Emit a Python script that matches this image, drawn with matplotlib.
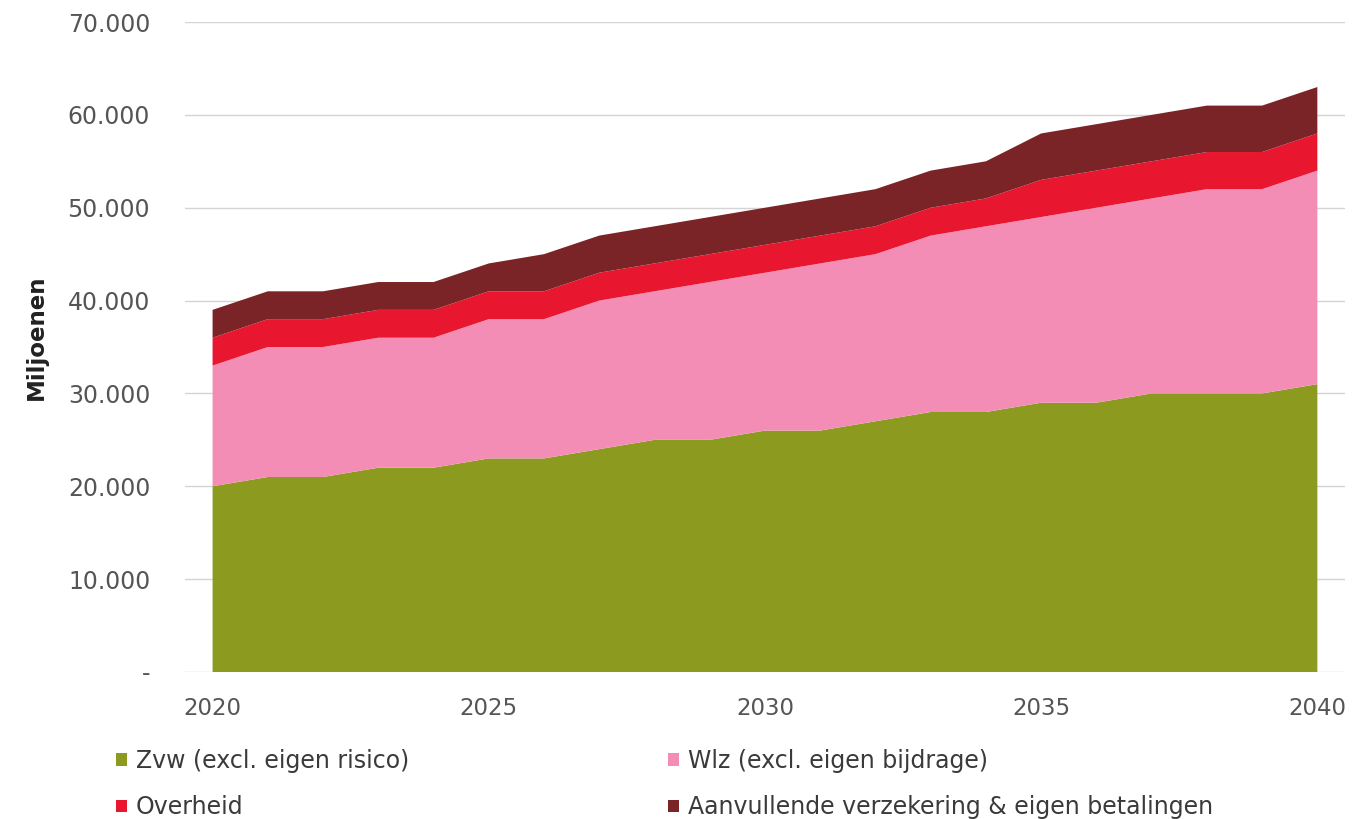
import matplotlib.pyplot as plt
import numpy as np
from matplotlib.patches import Patch
from matplotlib.ticker import FuncFormatter

years = list(range(2020, 2041))
zvw = [20000, 21000, 21000, 22000, 22000, 23000, 23000, 24000, 25000, 25000, 26000,
       26000, 27000, 28000, 28000, 29000, 29000, 30000, 30000, 30000, 31000]
wlz = [13000, 14000, 14000, 14000, 14000, 15000, 15000, 16000, 16000, 17000, 17000,
       18000, 18000, 19000, 20000, 20000, 21000, 21000, 22000, 22000, 23000]
overheid = [3000, 3000, 3000, 3000, 3000, 3000, 3000, 3000, 3000, 3000, 3000,
            3000, 3000, 3000, 3000, 4000, 4000, 4000, 4000, 4000, 4000]
aanvullend = [3000, 3000, 3000, 3000, 3000, 3000, 4000, 4000, 4000, 4000, 4000,
              4000, 4000, 4000, 4000, 5000, 5000, 5000, 5000, 5000, 5000]

labels = ["Zvw (excl. eigen risico)", "Wlz (excl. eigen bijdrage)",
          "Overheid", "Aanvullende verzekering & eigen betalingen"]
colors = ["#8c9a1f", "#f48db5", "#e8162e", "#7b2428"]

fig = plt.figure(figsize=(13.52, 8.19), dpi=100)
ax = fig.add_axes([0.1368, 0.1795, 0.858, 0.7936])

ax.stackplot(years, zvw, wlz, overheid, aanvullend, colors=colors, linewidth=0, zorder=2)

ax.set_xlim(2019.5, 2040.5)
ax.set_ylim(0, 70000)
ax.set_yticks(np.arange(0, 70001, 10000))
ax.set_xticks([2020, 2025, 2030, 2035, 2040])
ax.yaxis.set_major_formatter(FuncFormatter(lambda v, p: "-" if v == 0 else f"{int(v):,}".replace(",", ".")))
ax.grid(axis="y", color="#d4d4d4", linewidth=1, zorder=1)
ax.tick_params(length=0, labelcolor="#555555")
ax.tick_params(axis="y", pad=25, labelsize=17)
ax.tick_params(axis="x", pad=18, labelsize=16.5)
for s in ax.spines.values():
    s.set_visible(False)
ax.set_ylabel("Miljoenen", fontsize=16.5, fontweight="bold", color="#222222")
ax.yaxis.set_label_coords(-0.118, 0.515)

h = [Patch(facecolor=c) for c in colors]
kw = dict(frameon=False, fontsize=17, handlelength=0.45, handleheight=0.45,
          handletextpad=0.4, labelspacing=0.95, labelcolor="#3a3a3a", borderaxespad=0,
          borderpad=0)
fig.legend([h[0], h[2]], [labels[0], labels[2]], loc="upper left",
           bbox_to_anchor=(116 / 1352, 1 - 749 / 819), **kw)
fig.legend([h[1], h[3]], [labels[1], labels[3]], loc="upper left",
           bbox_to_anchor=(668 / 1352, 1 - 749 / 819), **kw)

fig.savefig("out.png", dpi=100)
